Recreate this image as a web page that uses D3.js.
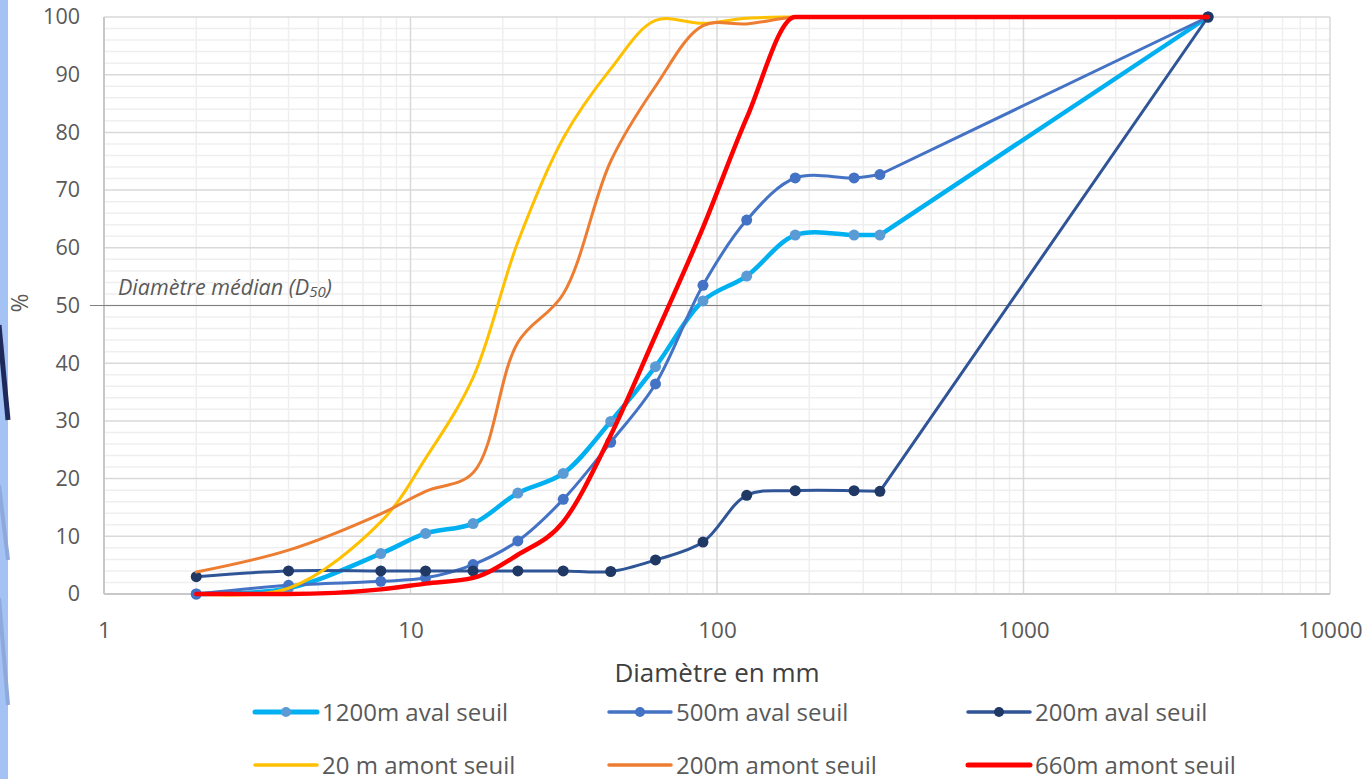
<!DOCTYPE html>
<html><head><meta charset="utf-8">
<script src="https://cdn.jsdelivr.net/npm/d3@7"></script>
<style>body{margin:0;background:#fff;}svg{display:block;}</style>
</head><body>
<script>
// ---- data ----
const sizes = [2, 4, 8, 11.2, 16, 22.4, 31.5, 45, 63, 90, 125, 180, 280, 340, 4000];
const aval1200 = [0, 1, 7, 10.5, 12.2, 17.5, 20.9, 29.9, 39.4, 50.8, 55.1, 62.2, 62.2, 62.2, 100];
const aval500  = [0, 1.5, 2.2, 2.8, 5.1, 9.2, 16.4, 26.3, 36.4, 53.5, 64.8, 72.1, 72.1, 72.7, 100];
const aval200  = [3, 4, 4, 4, 4, 4, 4, 3.9, 5.9, 9, 17.1, 17.9, 17.9, 17.8, 100];
const amont20  = [0, 1, 12.5, 23.5, 37.5, 61, 79, 91, 99.4, 98.9, 99.8, 100, 100, 100, 100];
const amont200 = [3.8, 7.6, 13.9, 17.8, 21, 43.6, 52, 75, 88, 98.5, 98.8, 100, 100, 100, 100];
const amont660 = [0, 0, 0.8, 1.8, 2.8, 6.8, 12.5, 27.5, 44.8, 63.5, 82.5, 100, 100, 100, 100];
const seriesNames = ["1200m aval seuil", "500m aval seuil", "200m aval seuil", "20 m amont seuil", "200m amont seuil", "660m amont seuil"];
const xTicks = [1, 10, 100, 1000, 10000];
const yTicks = [0, 10, 20, 30, 40, 50, 60, 70, 80, 90, 100];
const medianValue = 50;
const medianLabel = "Diamètre médian (D";
const medianSub = "50";
const xTitle = "Diamètre en mm";
const yTitle = "%";

const series = [
  {name: seriesNames[0], values: aval1200, color: "#00b0f0", width: 4.5, marker: "#5b9bd5", r: 5.5, curve: d3.curveCatmullRom.alpha(0.5)},
  {name: seriesNames[1], values: aval500,  color: "#4472c4", width: 3,   marker: "#4472c4", r: 5.5, curve: d3.curveCatmullRom.alpha(0.5)},
  {name: seriesNames[2], values: aval200,  color: "#2f5597", width: 3,   marker: "#1f3864", r: 5.5, curve: d3.curveCatmullRom.alpha(0.5)},
  {name: seriesNames[3], values: amont20,  color: "#ffc000", width: 3,   marker: null, curve: d3.curveCatmullRom.alpha(0.5)},
  {name: seriesNames[4], values: amont200, color: "#ed7d31", width: 3,   marker: null, curve: d3.curveCatmullRom.alpha(0.5)},
  {name: seriesNames[5], values: amont660, color: "#ff0000", width: 4.5, marker: null, curve: d3.curveMonotoneX}
];

const W = 1368, H = 779;
const svg = d3.select("body").append("svg").attr("width", W).attr("height", H);
const FONT = "'Open Sans', 'Noto Sans', sans-serif";

// left slide decoration
svg.append("rect").attr("x", 0).attr("y", 0).attr("width", 8).attr("height", H).attr("fill", "#a4c2f4");
const deco = svg.append("g");
deco.append("line").attr("x1", -1).attr("y1", 325).attr("x2", 8).attr("y2", 420).attr("stroke", "#1f2a5a").attr("stroke-width", 5);
deco.append("line").attr("x1", -1).attr("y1", 485).attr("x2", 8).attr("y2", 560).attr("stroke", "#8eaadb").attr("stroke-width", 4);
deco.append("line").attr("x1", -1).attr("y1", 598).attr("x2", 8).attr("y2", 705).attr("stroke", "#8eaadb").attr("stroke-width", 4);

const x = d3.scaleLog().domain([1, 10000]).range([104, 1330]);
const y = d3.scaleLinear().domain([0, 100]).range([594, 17]);

// gridlines
const grid = svg.append("g");
const minorX = [];
for (let d = 1; d < 10000; d *= 10) for (let k = 2; k <= 9; k++) minorX.push(d * k);
grid.selectAll(".mx").data(minorX).join("line")
  .attr("x1", d => x(d)).attr("x2", d => x(d)).attr("y1", y(0)).attr("y2", y(100))
  .attr("stroke", "#efefef").attr("stroke-width", 1.5);
const minorY = d3.range(0, 101, 2).filter(v => v % 10 !== 0);
grid.selectAll(".my").data(minorY).join("line")
  .attr("x1", x(1)).attr("x2", x(10000)).attr("y1", d => y(d)).attr("y2", d => y(d))
  .attr("stroke", "#efefef").attr("stroke-width", 1.5);
grid.selectAll(".Mx").data(xTicks).join("line")
  .attr("x1", d => x(d)).attr("x2", d => x(d)).attr("y1", y(0)).attr("y2", y(100))
  .attr("stroke", "#d9d9d9").attr("stroke-width", 1.5);
grid.selectAll(".My").data(yTicks).join("line")
  .attr("x1", x(1)).attr("x2", x(10000)).attr("y1", d => y(d)).attr("y2", d => y(d))
  .attr("stroke", "#d9d9d9").attr("stroke-width", 1.5);
// axis lines
svg.append("line").attr("x1", x(1)).attr("x2", x(1)).attr("y1", y(0)).attr("y2", y(100)).attr("stroke", "#c8c8c8").attr("stroke-width", 2);
svg.append("line").attr("x1", x(1)).attr("x2", x(10000)).attr("y1", y(0)).attr("y2", y(0)).attr("stroke", "#c8c8c8").attr("stroke-width", 2);

// median line
svg.append("line").attr("x1", 90).attr("x2", 1262).attr("y1", y(medianValue)).attr("y2", y(medianValue))
  .attr("stroke", "#7f7f7f").attr("stroke-width", 1.2);
const mt = svg.append("text").attr("x", 118).attr("y", y(medianValue) - 11)
  .attr("font-family", FONT).attr("font-style", "italic").attr("font-size", 21.5).attr("fill", "#595959");
mt.append("tspan").text(medianLabel);
mt.append("tspan").attr("font-size", 15).attr("dy", 2).text(medianSub);
mt.append("tspan").attr("dy", -2).text(")");

// axes
const yAxis = d3.axisLeft(y).tickValues(yTicks).tickSize(0).tickPadding(24);
svg.append("g").attr("transform", `translate(${x(1)},0)`).call(yAxis)
  .call(g => g.select(".domain").remove())
  .selectAll("text").attr("font-family", FONT).attr("font-size", 21.5).attr("fill", "#595959");
const xAxis = d3.axisBottom(x).tickValues(xTicks).tickFormat(d3.format("d")).tickSize(0).tickPadding(28);
svg.append("g").attr("transform", `translate(0,${y(0)})`).call(xAxis)
  .call(g => g.select(".domain").remove())
  .selectAll("text").attr("font-family", FONT).attr("font-size", 22.5).attr("fill", "#595959");

svg.append("text").attr("x", 717).attr("y", 682).attr("text-anchor", "middle")
  .attr("font-family", FONT).attr("font-size", 26).attr("fill", "#404040").text(xTitle);
svg.append("text").attr("transform", "translate(28,303) rotate(-90)").attr("text-anchor", "middle")
  .attr("font-family", FONT).attr("font-size", 23).attr("fill", "#595959").text(yTitle);

// series: smoothed through the sieve points, straight last segment to the largest size
series.forEach(s => {
  const pts = sizes.map((sz, i) => [sz, s.values[i]]);
  const n = pts.length;
  const smooth = d3.line().curve(s.curve).x(d => x(d[0])).y(d => y(d[1]));
  const straight = d3.line().x(d => x(d[0])).y(d => y(d[1]));
  svg.append("path").attr("d", smooth(pts.slice(0, n - 1)) + straight(pts.slice(n - 2)).replace(/^M[^L]*/, "")).attr("fill", "none")
    .attr("stroke", s.color).attr("stroke-width", s.width).attr("stroke-linejoin", "round").attr("stroke-linecap", "round");
  if (s.marker) {
    svg.append("g").selectAll("circle").data(pts).join("circle")
      .attr("cx", d => x(d[0])).attr("cy", d => y(d[1])).attr("r", s.r).attr("fill", s.marker);
  }
});

// legend
const legX = [255, 609, 968];
const legY = [712, 765];
series.forEach((s, i) => {
  const lx = legX[i % 3], ly = legY[Math.floor(i / 3)];
  const g = svg.append("g");
  g.append("line").attr("x1", lx).attr("x2", lx + 62).attr("y1", ly).attr("y2", ly)
    .attr("stroke", s.color).attr("stroke-width", s.width + 0.5).attr("stroke-linecap", "round");
  if (s.marker) g.append("circle").attr("cx", lx + 31).attr("cy", ly).attr("r", 5).attr("fill", s.marker);
  g.append("text").attr("x", lx + 67).attr("y", ly + 8.5).attr("font-family", FONT).attr("font-size", 24)
    .attr("fill", "#595959").text(s.name);
});
</script>
</body></html>
